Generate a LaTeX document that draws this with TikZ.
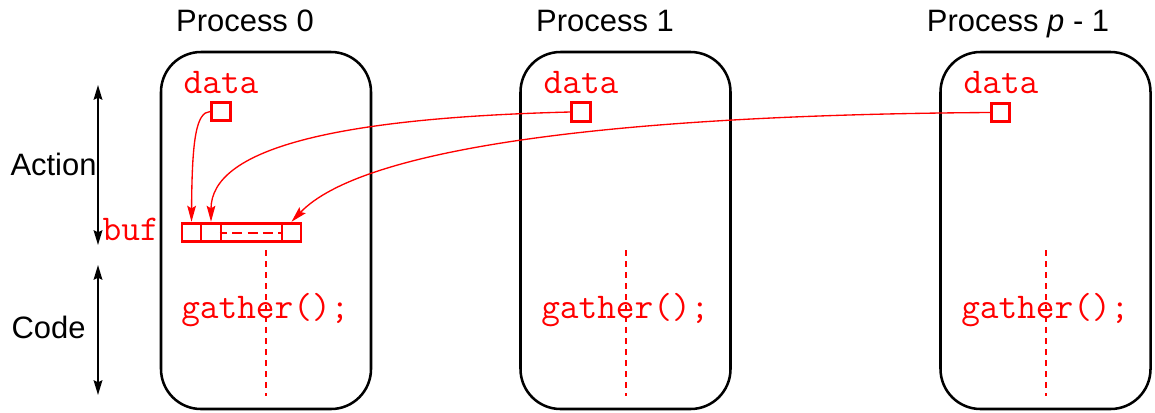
\documentclass[tikz,border=0pt]{standalone}
\usepackage{fontspec}
\setmainfont{Liberation Sans}
\usetikzlibrary{arrows.meta}

\begin{document}
\begin{tikzpicture}[x=0.75pt,y=-0.75pt,
  procbox/.style={draw=black,line width=1.9pt,rounded corners=30pt,
    minimum width=157.5pt,minimum height=267.75pt,inner sep=0pt},
  title/.style={font=\fontsize{23.2}{28}\selectfont,anchor=base,inner sep=0pt},
  code/.style={font=\ttfamily\fontsize{27.2}{31}\selectfont,text=red,inner sep=0pt},
  cell/.style={draw=red,line width=2.1pt,minimum height=14pt,inner sep=0pt},
  datasq/.style={draw=red,line width=2.1pt,minimum size=14pt,inner sep=0pt},
  feed/.style={draw=red,line width=1pt,-{Stealth[length=12pt,width=6.5pt,inset=2pt]}},
  span/.style={draw=black,line width=1.5pt,{Stealth[length=11pt,width=6.5pt,inset=1.5pt]}-{Stealth[length=11pt,width=6.5pt,inset=1.5pt]}},
  spine/.style={draw=red,line width=1.5pt,dash pattern=on 4.5pt off 3.75pt}
]
\useasboundingbox (0,0) rectangle (1155,412);

% process boxes
\node[procbox] (box0) at (266,230.5) {};
\node[procbox] (box1) at (625.5,230.5) {};
\node[procbox] (box2) at (1045.5,230.5) {};

% titles
\node[title] (t0) at (245,31) {Process 0};
\node[title] (t1) at (605,31) {Process 1};
\node[title] (t2) at (1018,31) {Process \textit{p} - 1};

% side labels and extents
\node[title] (action) at (53.5,175) {Action};
\node[title] (codelbl) at (48.5,338) {Code};
\coordinate (actTop) at (98,85);
\coordinate (actBot) at (98,245);
\coordinate (codeTop) at (98,265);
\coordinate (codeBot) at (98,395);
\draw[span] (actTop) -- (actBot);
\draw[span] (codeTop) -- (codeBot);

% dotted spines behind the code text
\foreach \b in {box0,box1,box2}
  \draw[spine] (\b.center |- 0,250) -- (\b.center |- 0,396);

% data cells
\node[code,anchor=base] (lab0) at (221,93) {data};
\node[code,anchor=base] (lab1) at (581,93) {data};
\node[code,anchor=base] (lab2) at (1001,93) {data};
\node[datasq] (d0) at (221,111.5) {};
\node[datasq] (d1) at (581,112) {};
\node[datasq] (d2) at (1000.5,112.5) {};

% receive buffer
\node[code,anchor=base east] (buflbl) at (159,240) {buf};
\node[cell,minimum width=14.25pt] (c1) at (191.5,232.5) {};
\node[cell,minimum width=15pt] (c2) at (211,232.5) {};
\node[cell,minimum width=45.75pt] (c3) at (251.5,232.5) {};
\node[cell,minimum width=14.25pt] (c4) at (291.5,232.5) {};
\draw[red,line width=1.5pt,dash pattern=on 7.5pt off 4pt,dash phase=2pt] (c3.west) -- (c3.east);

% gather calls
\node[code,anchor=base west] (g0) at (181,318) {gather();};
\node[code,anchor=base west] (g1) at (541,318) {gather();};
\node[code,anchor=base west] (g2) at (961,318) {gather();};

% data flowing into the buffer
\draw[feed] (d0.west) .. controls (196,112) and (192,140) .. (c1.north);
\draw[feed] (d1.west) .. controls (330,118) and (211,150) .. (c2.north);
\draw[feed] (d2.west) .. controls (600,115) and (360,150) .. (c4.north);
\end{tikzpicture}
\end{document}
